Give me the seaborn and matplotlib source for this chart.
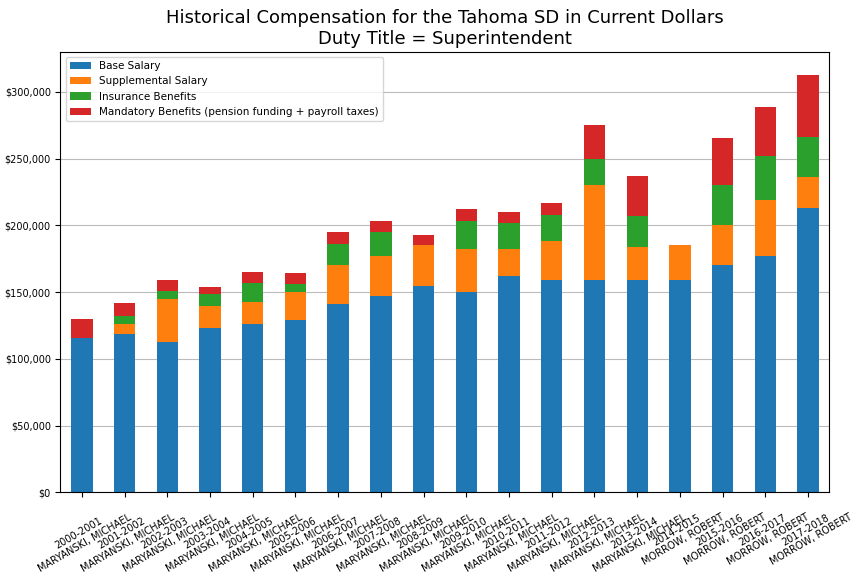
import numpy as np
import pandas as pd
import matplotlib
matplotlib.use("Agg")
import matplotlib.pyplot as plt
import seaborn as sns
from matplotlib.ticker import FuncFormatter

years = ["2000-2001", "2001-2002", "2002-2003", "2003-2004", "2004-2005", "2005-2006",
         "2006-2007", "2007-2008", "2008-2009", "2009-2010", "2010-2011", "2011-2012",
         "2012-2013", "2013-2014", "2014-2015", "2015-2016", "2016-2017", "2017-2018"]
names = ["MARYANSKI, MICHAEL"] * 14 + ["MORROW, ROBERT"] * 4

base = [116000, 119000, 113000, 123500, 126000, 129000, 141000, 147000, 155000,
        150000, 162000, 159500, 159500, 159500, 159500, 170000, 177000, 213000]
supplemental = [0, 7000, 32000, 16500, 17000, 21000, 29000, 30000, 30000,
                32000, 20000, 28500, 70500, 24500, 25500, 30000, 42000, 23000]
insurance = [0, 6000, 6000, 9000, 14000, 6000, 16000, 18000, 0,
             21000, 20000, 20000, 20000, 23000, 0, 30000, 33000, 30000]
mandatory = [14000, 10000, 8000, 5000, 8000, 8000, 9000, 8500, 8000,
             9000, 8000, 9000, 25000, 30000, 0, 35500, 37000, 47000]

series = {
    "Base Salary": base,
    "Supplemental Salary": supplemental,
    "Insurance Benefits": insurance,
    "Mandatory Benefits (pension funding + payroll taxes)": mandatory,
}
colors = ["#1f77b4", "#ff7f0e", "#2ca02c", "#d62728"]

labels = [f"{y}\n{n}" for y, n in zip(years, names)]

fig, ax = plt.subplots(figsize=(8.64, 5.76), dpi=100)
bottom = np.zeros(len(years))
for (name, vals), c in zip(series.items(), colors):
    df = pd.DataFrame({"label": labels, "value": vals})
    sns.barplot(data=df, x="label", y="value", color=c, ax=ax, bottom=bottom,
                width=0.5, label=name, saturation=1)
    bottom += np.array(vals)

ax.set_ylim(0, 330000)
ax.yaxis.set_major_formatter(FuncFormatter(lambda v, p: f"${v:,.0f}"))
ax.tick_params(axis="y", labelsize=7)
ax.tick_params(axis="x", labelsize=7, rotation=30)
for t in ax.get_xticklabels():
    t.set_ha("center")
ax.set_xlabel("")
ax.set_ylabel("")
ax.yaxis.grid(True, color="#bbbbbb")
ax.set_axisbelow(True)
ax.legend(loc="upper left", fontsize=7.5)
ax.set_title("Historical Compensation for the Tahoma SD in Current Dollars\nDuty Title = Superintendent",
             fontsize=13)
fig.subplots_adjust(left=0.07, right=0.96, top=0.91, bottom=0.145)
fig.savefig("out.png", dpi=100)
